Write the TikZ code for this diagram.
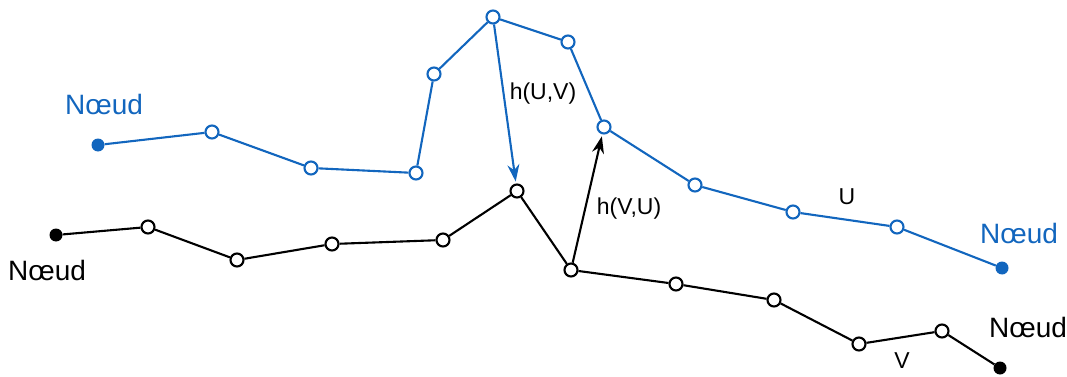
\documentclass[tikz,border=0pt]{standalone}
\usepackage{fontspec}
\setmainfont{Liberation Sans}
\usetikzlibrary{arrows.meta}
\definecolor{ublue}{RGB}{18,102,190}
\begin{document}
\begin{tikzpicture}[x=1pt,y=-1pt,
  hollow/.style={circle,draw,line width=2.1pt,fill=white,minimum size=13pt,inner sep=0pt},
  bhollow/.style={hollow,draw=ublue},
  dot/.style={circle,fill,minimum size=13pt,inner sep=0pt},
  edge/.style={line width=2.1pt},
  harrow/.style={line width=2.1pt,-{Stealth[length=17pt,width=12pt]}},
  big/.style={font=\fontsize{28}{32}\selectfont},
  lab/.style={font=\fontsize{23}{27}\selectfont}]
\useasboundingbox (0,0) rectangle (1067,377);
% U chain (blue)
\node[dot,fill=ublue] (u0) at (98,145) {};
\node[bhollow] (u1) at (212,132) {};
\node[bhollow] (u2) at (311,168) {};
\node[bhollow] (u3) at (416,173) {};
\node[bhollow] (u4) at (434,74) {};
\node[bhollow] (u5) at (493,17) {};
\node[bhollow] (u6) at (568,42) {};
\node[bhollow] (u7) at (604,127) {};
\node[bhollow] (u8) at (695,185) {};
\node[bhollow] (u9) at (793,212) {};
\node[bhollow] (u10) at (897,227) {};
\node[dot,fill=ublue] (u11) at (1002,268) {};
\draw[edge,ublue] (u0) -- (u1) -- (u2) -- (u3) -- (u4) -- (u5) -- (u6) -- (u7) -- (u8) -- (u9) -- (u10) -- (u11);
% V chain (black)
\node[dot] (v0) at (56,235) {};
\node[hollow] (v1) at (148,227) {};
\node[hollow] (v2) at (237,260) {};
\node[hollow] (v3) at (332,244) {};
\node[hollow] (v4) at (443,240) {};
\node[hollow] (v5) at (517,191) {};
\node[hollow] (v6) at (571,270) {};
\node[hollow] (v7) at (676,284) {};
\node[hollow] (v8) at (774,300) {};
\node[hollow] (v9) at (859,344) {};
\node[hollow] (v10) at (942,331) {};
\node[dot] (v11) at (1000,368) {};
\draw[edge] (v0) -- (v1) -- (v2) -- (v3) -- (v4) -- (v5) -- (v6) -- (v7) -- (v8) -- (v9) -- (v10) -- (v11);
% arrows
\draw[harrow,ublue,shorten >=2pt] (u5) -- (v5);
\draw[harrow,shorten >=2pt] (v6) -- (u7);
% labels
\node[big,ublue] (l1) at (104,104) {Nœud};
\node[big,ublue] (l2) at (1019,233) {Nœud};
\node[big] (l3) at (47,270) {Nœud};
\node[big] (l4) at (1028,327) {Nœud};
\node[lab] (hu) at (543,94) {h(U,V)};
\node[lab] (hv) at (629,209) {h(V,U)};
\node[lab] (lu) at (847,197) {U};
\node[lab] (lv) at (902,361) {V};
\end{tikzpicture}
\end{document}
